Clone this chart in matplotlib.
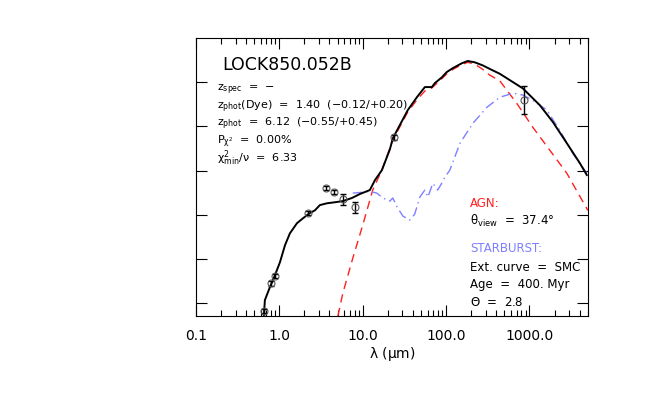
import matplotlib.pyplot as plt
import numpy as np

plt.rcParams['font.family'] = ['DejaVu Sans']
plt.rcParams['mathtext.default'] = 'regular'

# total model (wavelength in micron, log flux)
tot_lam = [0.653, 0.672, 0.771, 0.886, 1.02, 1.17, 1.34, 1.63, 1.92, 2.33,
           2.67, 3.07, 3.72, 4.91, 5.79, 7.43, 9.25, 12.2, 14.0, 17.0, 21.2,
           23.0, 27.9, 34.8, 44.7, 55.7, 67.6, 73.5, 89.1, 102, 121, 155, 182,
           221, 276, 335, 442, 834, 1333, 1910, 2810, 4020, 4880]
tot_flux = [-0.29, 0.07, 0.36, 0.63, 0.93, 1.31, 1.58, 1.81, 1.92, 2.04,
            2.10, 2.22, 2.26, 2.29, 2.31, 2.38, 2.47, 2.56, 2.78, 3.01, 3.48,
            3.73, 4.03, 4.37, 4.66, 4.89, 4.89, 4.98, 5.11, 5.23, 5.32, 5.43,
            5.48, 5.45, 5.38, 5.30, 5.19, 4.86, 4.48, 4.10, 3.62, 3.17, 2.90]

# AGN component
agn_lam = [5.05, 5.79, 7.62, 10.0, 13.2, 17.0, 23.0, 27.9, 34.8, 44.7, 55.7,
           67.6, 89.1, 102, 121, 155, 182, 221, 276, 335, 442, 706, 1099,
           1758, 2810, 5012]
agn_flux = [-0.29, 0.23, 1.02, 1.76, 2.56, 3.01, 3.69, 3.99, 4.33, 4.60, 4.80,
            4.87, 5.08, 5.19, 5.29, 5.40, 5.45, 5.41, 5.29, 5.16, 5.03, 4.52,
            3.98, 3.46, 2.94, 2.10]

# starburst component
sb_lam = [7.62, 10.0, 12.2, 14.8, 17.5, 21.2, 23.0, 25.6, 30.4, 36.6, 42.0,
          48.5, 55.7, 60.5, 69.5, 79.4, 88.5, 96.8, 111, 147, 210, 308, 442,
          633, 834, 1099, 1618, 2317, 3311, 4880]
sb_flux = [2.49, 2.51, 2.53, 2.49, 2.38, 2.31, 2.38, 2.19, 1.97, 1.88, 2.01,
           2.40, 2.56, 2.40, 2.71, 2.56, 2.71, 2.85, 3.01, 3.62, 4.07, 4.43,
           4.66, 4.75, 4.71, 4.59, 4.37, 3.91, 3.39, 2.94]

# photometry
obs_lam = [0.65, 0.80, 0.90, 2.2, 3.6, 4.5, 5.8, 8.0, 24.0, 850.0]
obs_flux = [-0.18, 0.45, 0.61, 2.04, 2.60, 2.51, 2.35, 2.17, 3.75, 4.59]
obs_err = [0.05, 0.05, 0.05, 0.05, 0.05, 0.05, 0.12, 0.125, 0.05, 0.32]

xticks = [0.1, 1.0, 10.0, 100.0, 1000.0]
xticklabels = ['0.1', '1.0', '10.0', '100.0', '1000.0']

fig = plt.figure(figsize=(6.53, 3.96), dpi=100)
ax = fig.add_axes([0.300, 0.202, 0.600, 0.702])

ax.plot(agn_lam, agn_flux, color='#ff2020', lw=1.0, dashes=(6, 4))
ax.plot(sb_lam, sb_flux, color='#7f7fff', lw=1.0, dashes=(7, 3, 1, 3))
ax.plot(tot_lam, tot_flux, color='black', lw=1.4)
ax.errorbar(obs_lam, obs_flux, yerr=obs_err, fmt='none', ecolor='black',
            elinewidth=1.0, capsize=2.5, capthick=1.0)
ax.plot(obs_lam, obs_flux, 'o', ms=5, mfc='none', mec='#555555', mew=0.8)

ax.set_xscale('log')
ax.set_xlim(0.1, 5000)
ax.set_ylim(-0.29, 6.0)
ax.set_xticks(xticks)
ax.set_xticklabels(xticklabels)
ax.set_yticks([0, 1, 2, 3, 4, 5])
ax.set_yticklabels([])
ax.tick_params(which='both', direction='in', top=True, right=True, width=0.8)
ax.tick_params(which='major', length=8, labelsize=10, pad=9)
ax.tick_params(which='minor', length=4)
ax.tick_params(axis='y', which='minor', left=False, right=False)
for s in ax.spines.values():
    s.set_linewidth(0.8)
ax.set_xlabel(r'$\lambda$ ($\mu$m)', fontsize=10, labelpad=2)

ax.text(0.066, 0.885, 'LOCK850.052B', transform=ax.transAxes, fontsize=12.5,
        va='baseline')
lines = [r'z$_{spec}$  =  $-$',
         r'z$_{phot}$(Dye)  =  1.40  ($-$0.12/+0.20)',
         r'z$_{phot}$  =  6.12  ($-$0.55/+0.45)',
         r'P$_{\chi^2}$  =  0.00%',
         r'$\chi^2_{min}/\nu$  =  6.33']
ys = [0.808, 0.744, 0.681, 0.619, 0.555]
for t, y in zip(lines, ys):
    ax.text(0.055, y, t, transform=ax.transAxes, fontsize=8, va='baseline')

rx = 0.70
right = [('AGN:', '#ff2020', 0.391),
         (r'$\theta_{view}$  =  37.4°', 'black', 0.327),
         ('STARBURST:', '#7f7fff', 0.231),
         ('Ext. curve  =  SMC', 'black', 0.163),
         ('Age  =  400. Myr', 'black', 0.100),
         (r'$\Theta$  =  2.8', 'black', 0.036)]
for t, c, y in right:
    ax.text(rx, y, t, transform=ax.transAxes, fontsize=8.5, color=c,
            va='baseline')

plt.savefig('out.png', dpi=100)
